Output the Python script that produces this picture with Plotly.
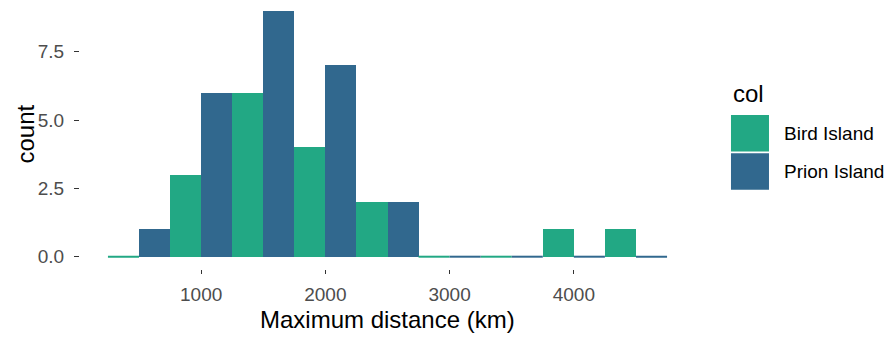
import plotly.graph_objects as go

# Histogram counts of maximum foraging distance, 500 km bins
bin_centers = [500, 1000, 1500, 2000, 2500, 3000, 3500, 4000, 4500]
bird_island = [0, 3, 6, 4, 2, 0, 0, 1, 1]
prion_island = [1, 6, 9, 7, 2, 0, 0, 0, 0]
series_names = ["Bird Island", "Prion Island"]
series_colors = ["#22A884", "#31688E"]
y_ticks = [0, 2.5, 5, 7.5]
x_ticks = [1000, 2000, 3000, 4000]

BIN_WIDTH = 500
FONT = "Liberation Sans, Arial, sans-serif"
TICK_COLOR = "#4D4D4D"

fig = go.Figure()

for name, counts, color in zip(series_names, [bird_island, prion_island], series_colors):
    fig.add_trace(go.Bar(
        x=bin_centers, y=counts, name=name,
        marker=dict(color=color, line=dict(width=0)),
        showlegend=False,
    ))

# Empty bins are drawn as flat strokes along the baseline in the series colour
for i, (counts, color) in enumerate(zip([bird_island, prion_island], series_colors)):
    xs, ys = [], []
    for c, n in zip(bin_centers, counts):
        if n == 0:
            left = c - BIN_WIDTH / 2 + i * BIN_WIDTH / 2
            xs += [left, left + BIN_WIDTH / 2, None]
            ys += [0, 0, None]
    fig.add_trace(go.Scatter(
        x=xs, y=ys, mode="lines", line=dict(color=color, width=2),
        showlegend=False, hoverinfo="skip",
    ))

lo, hi = min(bin_centers) - BIN_WIDTH / 2, max(bin_centers) + BIN_WIDTH / 2
pad = (hi - lo) * 0.05

fig.update_layout(
    width=896, height=337,
    margin=dict(l=80, r=201, t=0, b=68),
    paper_bgcolor="white", plot_bgcolor="white",
    barmode="group", bargap=0, bargroupgap=0,
    font=dict(family=FONT, color="black"),
    showlegend=False,
    xaxis=dict(
        range=[lo - pad, hi + pad], tickvals=x_ticks,
        ticks="outside", ticklen=4, tickwidth=1, tickcolor="#333333",
        tickfont=dict(size=19, color=TICK_COLOR, family=FONT),
        ticklabelstandoff=4,
        showgrid=False, zeroline=False, showline=False,
    ),
    yaxis=dict(
        range=[-0.45, 9.39], tickvals=y_ticks, ticktext=["0.0", "2.5", "5.0", "7.5"],
        ticks="outside", ticklen=5, tickwidth=1, tickcolor="#333333",
        tickfont=dict(size=19, color=TICK_COLOR, family=FONT),
        ticklabelstandoff=6,
        showgrid=False, zeroline=False, showline=False,
    ),
)

# Axis titles
fig.add_annotation(text="Maximum distance (km)", xref="paper", yref="paper",
                   x=0.5, y=0, yshift=-50, xanchor="center", yanchor="middle",
                   showarrow=False, font=dict(size=24, color="black", family=FONT))
fig.add_annotation(text="count", xref="paper", yref="paper",
                   x=0, y=0.5, xshift=-55, xanchor="center", yanchor="middle",
                   textangle=-90, showarrow=False,
                   font=dict(size=24, color="black", family=FONT))

# Legend: title, large colour keys and labels
fig.add_annotation(text="col", xref="paper", yref="paper", x=1.0585, y=0.654,
                   xanchor="left", yanchor="middle", showarrow=False,
                   font=dict(size=24, color="black", family=FONT))
key_tops = [0.5725, 0.4305]
key_h = 0.136
for name, color, top in zip(series_names, series_colors, key_tops):
    fig.add_shape(type="rect", xref="paper", yref="paper",
                  x0=1.0585, x1=1.1203, y0=top - key_h, y1=top,
                  fillcolor=color, line=dict(width=0))
    fig.add_annotation(text=name, xref="paper", yref="paper",
                       x=1.1415, y=top - key_h / 2,
                       xanchor="left", yanchor="middle", showarrow=False,
                       font=dict(size=19, color="black", family=FONT))

fig.write_html("out.html")
